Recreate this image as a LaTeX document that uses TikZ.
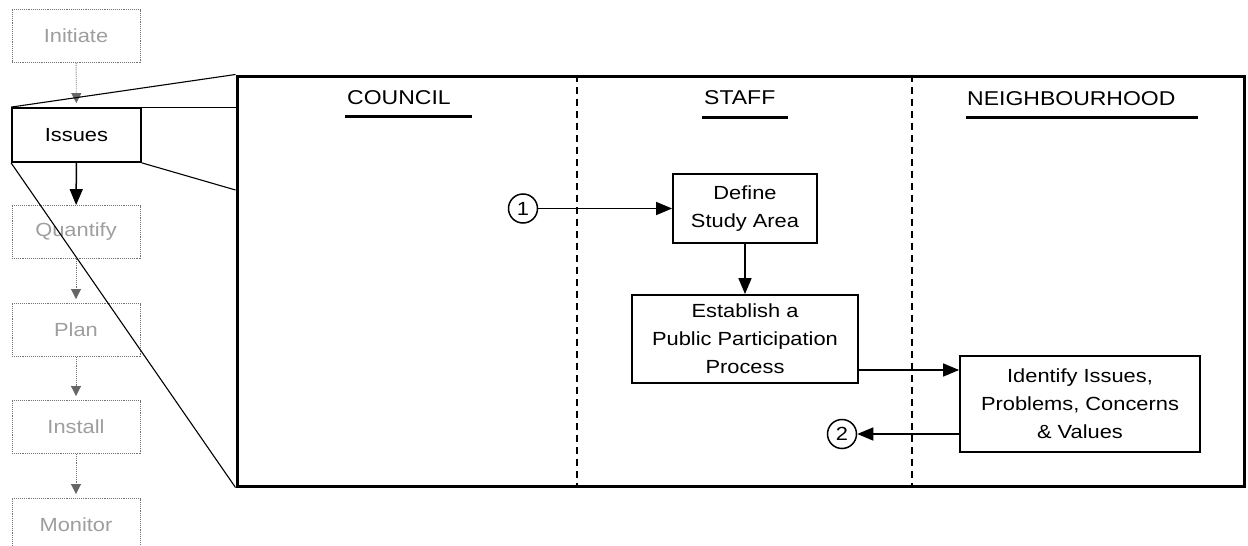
\documentclass[tikz,border=0pt]{standalone}
\usepackage{fontspec}
\setmainfont{Liberation Sans}[FakeStretch=1.15]
\usetikzlibrary{arrows.meta}

\definecolor{fadedtext}{gray}{0.62}
\definecolor{fadedline}{gray}{0.45}
\definecolor{fadedtip}{gray}{0.4}

\tikzset{
  txt/.style={font=\fontsize{19}{28}\selectfont},
  proc/.style={txt, draw, line width=1.8pt, align=center, inner sep=0pt},
  faded/.style={txt, draw=fadedline, densely dotted, line width=0.9pt, text=fadedtext,
    minimum width=128pt, minimum height=53pt, inner sep=0pt},
  current/.style={txt, draw, line width=1.8pt, minimum width=129pt, minimum height=54pt, inner sep=0pt},
  marker/.style={txt, circle, draw, line width=1.5pt, minimum size=29pt, inner sep=0pt},
  arr/.style={line width=1.5pt, -{Triangle[length=16pt,width=13pt]}},
  fadedarr/.style={draw=fadedline, densely dotted, line width=0.9pt, shorten >=4pt,
    -{Triangle[length=10pt,width=10pt,color=fadedtip,fill=fadedtip]}},
  zoomline/.style={line width=1.1pt},
  divider/.style={line width=1.6pt, dash pattern=on 7pt off 5pt},
  header/.style={font=\fontsize{20}{24}\selectfont, anchor=west, inner sep=0pt},
  rule/.style={line width=3pt},
}

\begin{document}
\begin{tikzpicture}[x=1pt,y=-1pt]
\useasboundingbox (0,0) rectangle (1248,546);
\clip (0,0) rectangle (1248,546);

% process overview column
\node[faded]   (initiate) at (76,36)  {Initiate};
\node[current] (issues)   at (76.5,135) {Issues};
\node[faded]   (quantify) at (76,232) {Quantify};
\node[faded]   (plan)     at (76,330) {Plan};
\node[faded]   (install)  at (76,427) {Install};
\node[faded]   (monitor)  at (76,525) {Monitor};

\draw[fadedarr] (initiate) -- (issues);
\draw[arr] (issues) -- (quantify);
\draw[fadedarr] (quantify) -- (plan);
\draw[fadedarr] (plan) -- (install);
\draw[fadedarr] (install) -- (monitor);

% detail frame for the Issues step
\node[draw, line width=3pt, minimum width=1007pt, minimum height=410pt, inner sep=0pt]
  (frame) at (740.5,281) {};

\coordinate (lowtie) at (0,190);
\draw[zoomline] (issues.north west) -- (frame.north west);
\draw[zoomline] (issues.north east) -- (frame.west |- issues.north);
\draw[zoomline] (issues.south east) -- (frame.west |- lowtie);
\draw[zoomline] (issues.south west) -- (frame.south west);

% swim lanes
\coordinate (laneA) at (577,0);
\coordinate (laneB) at (912,0);
\draw[divider] (frame.north -| laneA) -- (frame.south -| laneA);
\draw[divider] (frame.north -| laneB) -- (frame.south -| laneB);

\node[header] (hcouncil) at (347,98) {COUNCIL};
\draw[rule] (345,116) -- (472,116);
\node[header] (hstaff) at (704,98) {STAFF};
\draw[rule] (702,117) -- (788,117);
\node[header] (hneigh) at (967,99) {NEIGHBOURHOOD};
\draw[rule] (966,117) -- (1198,117);

% steps
\node[proc, minimum width=144pt, minimum height=69pt] (define) at (745,208.5) {Define\\Study Area};
\node[proc, minimum width=226pt, minimum height=88pt] (establish) at (745,339) {Establish a\\Public Participation\\Process};
\node[proc, minimum width=240pt, minimum height=96pt] (identify) at (1080,404) {Identify Issues,\\Problems, Concerns\\\& Values};

\node[marker] (one) at (523,208.5) {1};
\node[marker] (two) at (842,434) {2};

\coordinate (handoff) at (0,370);
\draw[arr] (one.east) -- (one.east -| define.west);
\draw[arr] (define) -- (establish);
\draw[arr] (establish.east |- handoff) -- (identify.west |- handoff);
\draw[arr] (identify.west |- two) -- (two.east);
\end{tikzpicture}
\end{document}
